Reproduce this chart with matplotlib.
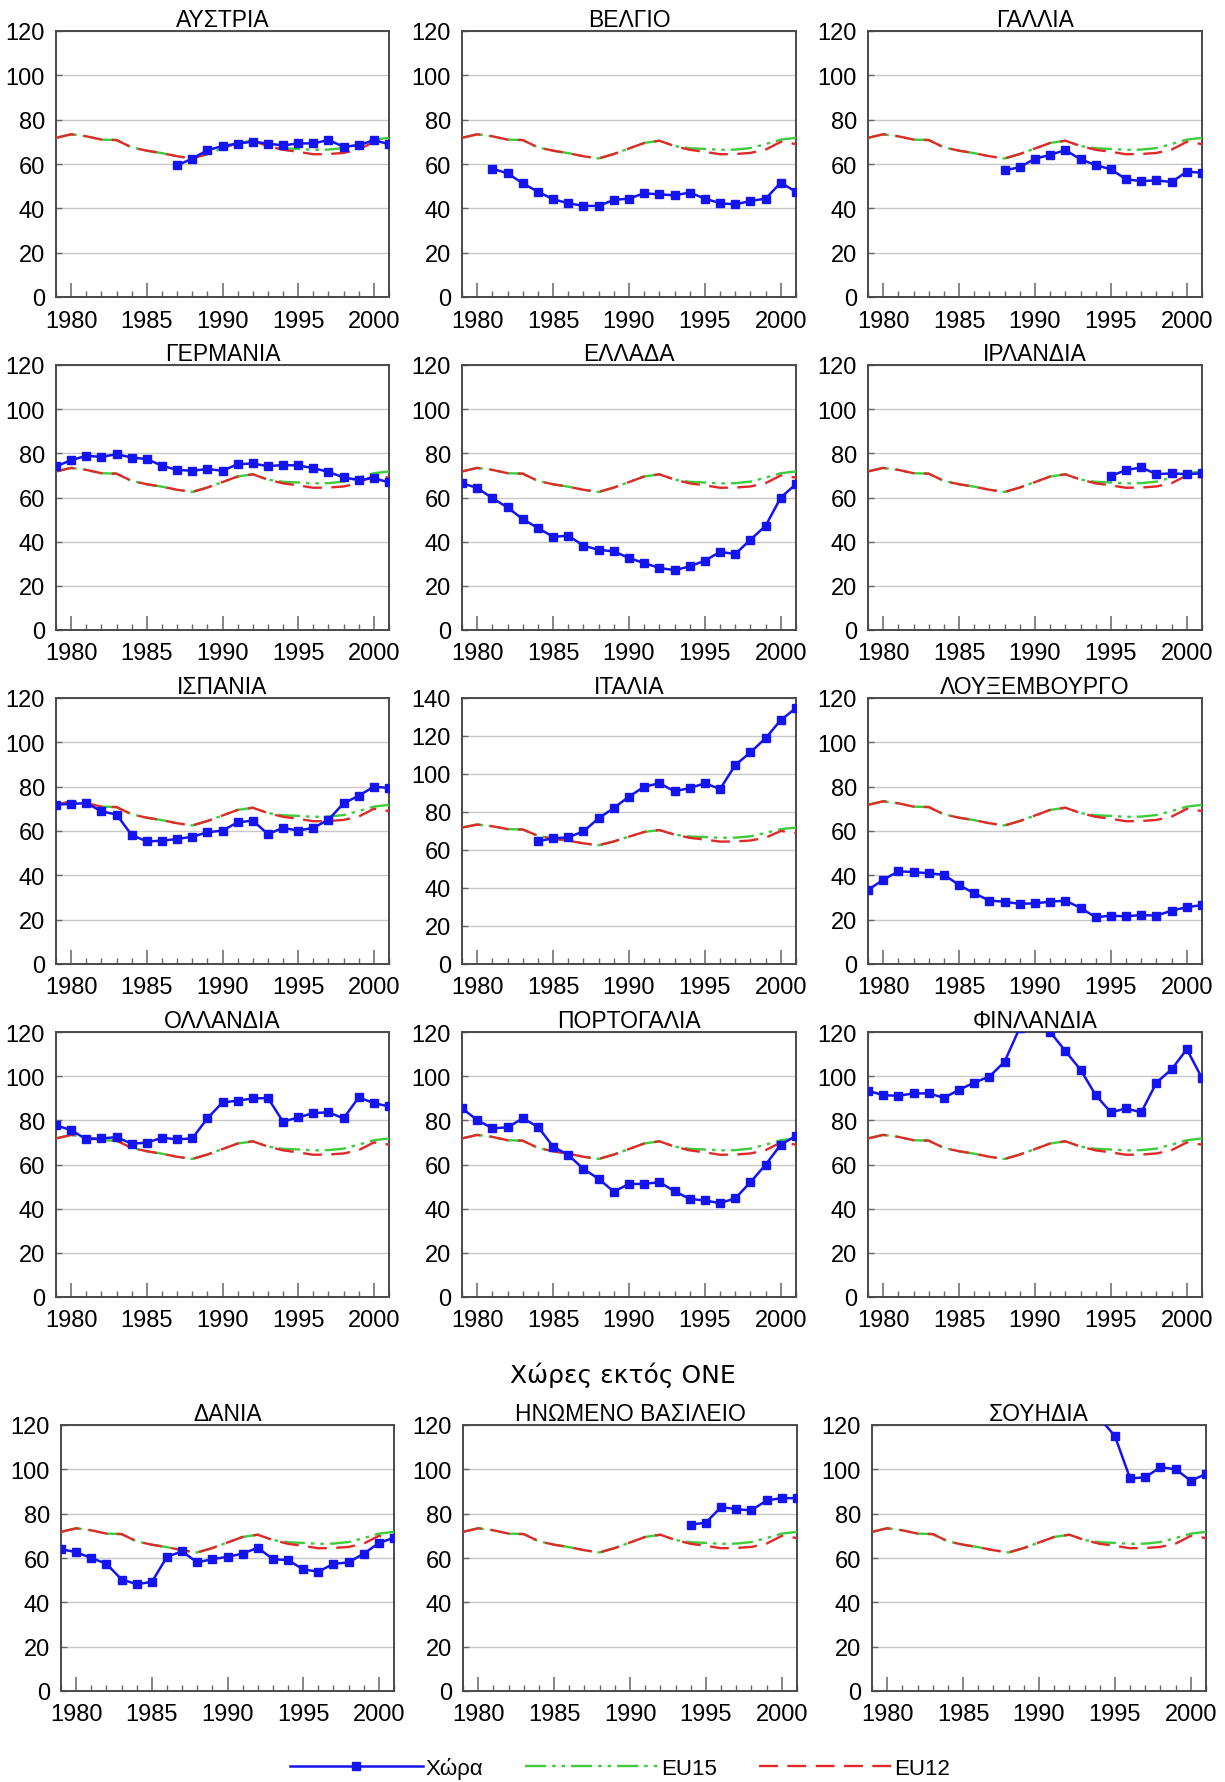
import matplotlib
matplotlib.use("Agg")
import matplotlib.pyplot as plt
from matplotlib.ticker import MultipleLocator
import numpy as np

plt.rcParams["font.family"] = ["Liberation Sans", "DejaVu Sans"]

# ── data ────────────────────────────────────────────────────────────────────
years = list(range(1979, 2002))

eu15 = [71.8, 73.4, 72.5, 71.0, 70.8, 67.5, 66.0, 64.9, 63.5, 62.5, 64.5, 67.0,
        69.5, 70.5, 68.1, 67.1, 66.8, 66.4, 66.5, 67.2, 69.0, 71.0, 71.8]
eu12 = [71.8, 73.4, 72.5, 71.0, 70.8, 67.5, 66.0, 64.9, 63.5, 62.5, 64.5, 67.0,
        69.5, 70.5, 68.1, 66.4, 65.5, 64.4, 64.5, 65.0, 66.5, 70.0, 69.0]

# country series: (first year, values up to 2001)
austria_from = 1987
austria = [59.4, 62.4, 66.2, 68.1, 69.2, 70.1, 69.2, 68.4, 69.3, 69.3, 70.8,
           67.8, 68.4, 70.8, 68.9]
belgium_from = 1981
belgium = [57.9, 55.8, 51.3, 47.5, 44.1, 42.3, 41.1, 41.1, 43.8, 44.4, 46.8,
           46.3, 45.9, 47.1, 44.4, 42.3, 41.8, 43.3, 44.4, 51.6, 47.4]
france_from = 1988
france = [57.1, 58.6, 62.4, 64.1, 66.3, 62.1, 59.5, 57.6, 53.1, 52.3, 52.6,
          51.9, 56.5, 56.1]
germany_from = 1979
germany = [74.1, 76.9, 78.9, 78.4, 79.6, 78.1, 77.4, 74.4, 72.5, 72.1, 72.9,
           72.1, 75.1, 75.4, 74.2, 74.7, 74.5, 73.3, 71.6, 69.1, 67.9, 68.8, 66.8]
greece_from = 1979
greece = [66.5, 64.3, 59.7, 55.5, 50.2, 46.2, 42.2, 42.7, 38.2, 36.3, 35.6,
          32.6, 30.3, 28.1, 27.1, 28.8, 31.4, 35.4, 34.4, 40.9, 47.2, 60.0, 66.1]
ireland_from = 1995
ireland = [69.8, 72.4, 73.6, 70.6, 70.9, 70.6, 70.9]
spain_from = 1979
spain = [71.9, 72.2, 72.6, 68.9, 67.4, 58.2, 55.3, 55.6, 56.4, 57.4, 59.4,
         60.2, 63.9, 64.7, 58.6, 61.4, 60.2, 61.4, 65.1, 72.5, 75.9, 80.0, 79.4]
italy_from = 1984
italy = [64.6, 66.1, 66.7, 69.8, 76.7, 82.1, 88.1, 93.3, 95.1, 90.9, 92.6,
         95.1, 92.1, 104.7, 111.4, 118.9, 128.4, 134.7]
luxembourg_from = 1979
luxembourg = [33.4, 38.0, 41.8, 41.5, 40.9, 40.3, 35.6, 31.9, 28.6, 28.1, 27.1,
              27.4, 28.1, 28.6, 25.3, 21.1, 21.8, 21.5, 22.1, 21.8, 24.1, 25.6, 26.6]
netherlands_from = 1979
netherlands = [77.7, 75.6, 71.4, 71.8, 72.4, 69.4, 69.9, 72.1, 71.4, 71.8, 80.9,
               88.1, 88.9, 89.9, 90.1, 79.4, 81.3, 83.3, 83.6, 80.9, 90.4, 87.8, 86.3]
portugal_from = 1979
portugal = [85.5, 80.1, 76.4, 76.8, 80.9, 77.1, 68.1, 64.3, 58.0, 53.5, 47.7,
            51.2, 51.2, 52.0, 47.9, 44.4, 43.7, 42.5, 44.7, 52.0, 59.9, 69.0, 73.0]
finland_from = 1979
finland = [93.4, 91.4, 91.1, 92.2, 92.2, 90.2, 93.8, 97.1, 99.8, 106.6, 122.0,
           126.0, 120.0, 111.4, 102.9, 91.4, 83.6, 85.4, 83.6, 97.1, 103.1, 112.2, 99.1]
denmark_from = 1979
denmark = [64.0, 62.6, 60.0, 57.4, 50.3, 48.2, 49.2, 60.5, 63.0, 58.0, 59.5,
           60.5, 62.0, 64.6, 59.5, 59.0, 54.9, 53.8, 57.4, 58.0, 62.0, 66.7, 69.2]
uk_from = 1994
uk = [75.0, 76.0, 83.0, 82.0, 81.5, 86.0, 87.0, 87.0]
sweden_from = 1994
sweden = [123.0, 115.0, 95.9, 96.4, 101.0, 100.0, 94.9, 97.9]

# ── layout (pixel boxes: left, right, top, bottom) ─────────────────────────
W, H = 1225, 1783
panels = [
    ("ΑΥΣΤΡΙΑ", austria_from, austria, 120, (56, 389, 32, 298)),
    ("ΒΕΛΓΙΟ", belgium_from, belgium, 120, (462, 796, 32, 298)),
    ("ΓΑΛΛΙΑ", france_from, france, 120, (868, 1202, 32, 298)),
    ("ΓΕΡΜΑΝΙΑ", germany_from, germany, 120, (56, 389, 366, 631)),
    ("ΕΛΛΑΔΑ", greece_from, greece, 120, (462, 796, 366, 631)),
    ("ΙΡΛΑΝΔΙΑ", ireland_from, ireland, 120, (868, 1202, 366, 631)),
    ("ΙΣΠΑΝΙΑ", spain_from, spain, 120, (56, 389, 699, 965)),
    ("ΙΤΑΛΙΑ", italy_from, italy, 140, (462, 796, 699, 965)),
    ("ΛΟΥΞΕΜΒΟΥΡΓΟ", luxembourg_from, luxembourg, 120, (868, 1202, 699, 965)),
    ("ΟΛΛΑΝΔΙΑ", netherlands_from, netherlands, 120, (56, 389, 1033, 1298)),
    ("ΠΟΡΤΟΓΑΛΙΑ", portugal_from, portugal, 120, (462, 796, 1033, 1298)),
    ("ΦΙΝΛΑΝΔΙΑ", finland_from, finland, 120, (868, 1202, 1033, 1298)),
    ("ΔΑΝΙΑ", denmark_from, denmark, 120, (61, 394, 1426, 1692)),
    ("ΗΝΩΜΕΝΟ ΒΑΣΙΛΕΙΟ", uk_from, uk, 120, (463, 797, 1426, 1692)),
    ("ΣΟΥΗΔΙΑ", sweden_from, sweden, 120, (872, 1206, 1426, 1692)),
]

BLUE = "#1414f0"
GREEN = "#3ccc3c"
RED = "#e02a2a"
SPINE = "#4a4a4a"

fig = plt.figure(figsize=(W / 100, H / 100), dpi=100)

handles = None
for title, start, vals, ymax, (l, r, t, b) in panels:
    ax = fig.add_axes([l / W, 1 - b / H, (r - l) / W, (b - t) / H])
    h15, = ax.plot(years, eu15, color=GREEN, lw=1.7,
                   linestyle=(0, (9, 2.5, 1.5, 2.5, 1.5, 2.5)), zorder=3)
    h12, = ax.plot(years, eu12, color=RED, lw=1.7,
                   linestyle=(0, (8, 4)), zorder=3)
    cx = list(range(start, start + len(vals)))
    hc, = ax.plot(cx, vals, color=BLUE, lw=1.8, marker="s", ms=6,
                  zorder=4)
    if handles is None:
        handles = [hc, h15, h12]

    ax.set_xlim(1979, 2001)
    ax.set_ylim(0, ymax)
    ax.yaxis.set_major_locator(MultipleLocator(20))
    ax.xaxis.set_major_locator(MultipleLocator(5))
    ax.xaxis.set_minor_locator(MultipleLocator(1))
    ax.grid(axis="y", color="#c8c8c8", lw=1.0, zorder=1)
    ax.set_axisbelow(True)

    ax.tick_params(axis="x", which="major", direction="in", length=10,
                   width=1.1, color="#666666", labelsize=17, pad=9)
    ax.tick_params(axis="x", which="minor", direction="in", length=4.5,
                   width=1.0, color="#666666")
    ax.tick_params(axis="y", which="major", direction="in", length=4,
                   width=1.0, color="#666666", labelsize=17, pad=8)
    for s in ax.spines.values():
        s.set_color(SPINE)
        s.set_linewidth(1.4)
    ax.set_title(title, fontsize=16.5, pad=2)

fig.text(623 / W, 1 - 1375 / H, "Χώρες εκτός ΟΝΕ", ha="center", va="center",
         fontsize=18, family=["DejaVu Sans"])

fig.legend(handles, ["Χώρα", "EU15", "EU12"], loc="center",
           bbox_to_anchor=(620 / W, 1 - 1769 / H), ncol=3, frameon=False,
           handlelength=6, handletextpad=0.1, columnspacing=1.9,
           fontsize=16, numpoints=1)

fig.savefig("out.png", dpi=100)
